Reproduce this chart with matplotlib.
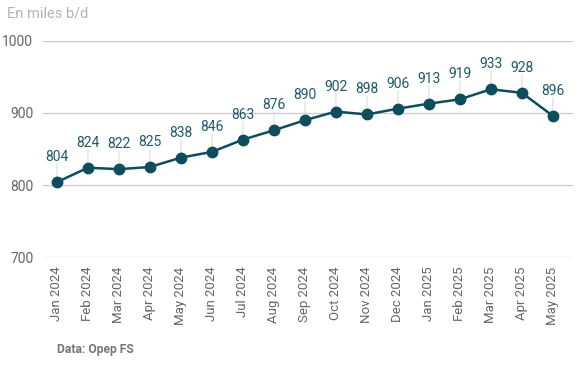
import matplotlib
matplotlib.use('Agg')
import matplotlib.pyplot as plt

months = ['Jan 2024', 'Feb 2024', 'Mar 2024', 'Apr 2024', 'May 2024', 'Jun 2024',
          'Jul 2024', 'Aug 2024', 'Sep 2024', 'Oct 2024', 'Nov 2024', 'Dec 2024',
          'Jan 2025', 'Feb 2025', 'Mar 2025', 'Apr 2025', 'May 2025']
production = [804, 824, 822, 825, 838, 846, 863, 876, 890, 902, 898, 906,
              913, 919, 933, 928, 896]
y_ticks = [700, 800, 900, 1000]

plt.rcParams['font.family'] = ['Roboto', 'DejaVu Sans']

fig = plt.figure(figsize=(5.79, 3.76), dpi=100)
ax = fig.add_axes([43 / 579, 1 - 257 / 376, 530 / 579, 216 / 376])

line_col = '#0e4d5b'
x = list(range(len(months)))

# faint connectors from labels to points
for i, v in enumerate(production):
    ax.annotate('', xy=(i, v), xytext=(0, 13), textcoords='offset points',
                arrowprops=dict(arrowstyle='-', color='#dddddd', lw=0.8,
                                shrinkA=0, shrinkB=0))

ax.plot(x, production, color=line_col, lw=1.8, marker='o', markersize=7.5, zorder=3)

for i, v in enumerate(production):
    ax.annotate(str(v), xy=(i, v), xytext=(0, 13), textcoords='offset points',
                ha='center', va='bottom', fontsize=10, color='#1f5a68')

ax.set_xlim(-0.45, 16.65)
ax.set_ylim(700, 1000)
ax.set_yticks(y_ticks)
ax.set_yticklabels([str(t) for t in y_ticks])
ax.set_xticks(x)
ax.set_xticklabels(months, rotation=90)
ax.tick_params(axis='x', length=0, pad=7, labelsize=9.5, labelcolor='#666666')
ax.tick_params(axis='y', length=0, pad=7, labelsize=10, labelcolor='#666666')
ax.grid(axis='y', color='#cccccc', lw=1)
ax.set_axisbelow(True)
for s in ax.spines.values():
    s.set_visible(False)

fig.text(7 / 579, 1 - 13 / 376, 'En miles b/d', fontsize=10.5, color='#b3b3b3',
         ha='left', va='center')
fig.text(57 / 579, 1 - 350 / 376, 'Data: Opep FS', fontsize=8.7, color='#777777',
         fontweight='bold', ha='left', va='center')

fig.savefig('out.png', dpi=100)
